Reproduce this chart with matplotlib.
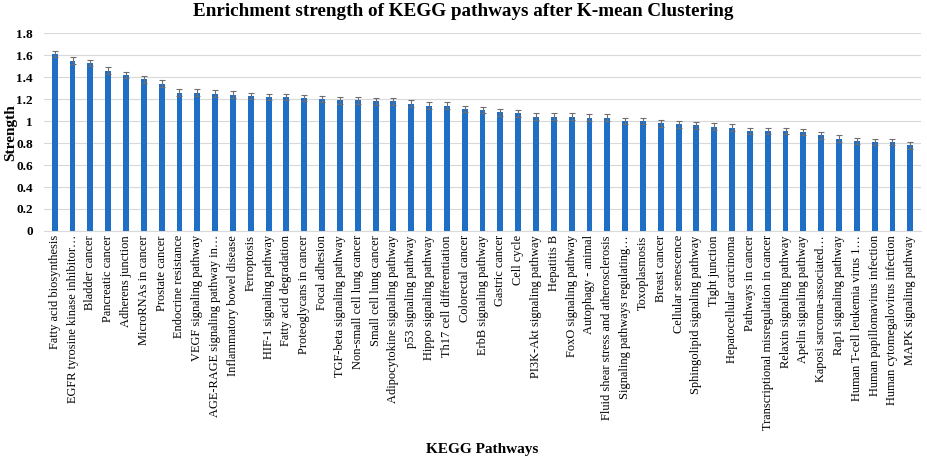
import matplotlib
matplotlib.use("Agg")
import matplotlib.pyplot as plt
import numpy as np

pathways = [
    "Fatty acid biosynthesis", "EGFR tyrosine kinase inhibitor…", "Bladder cancer",
    "Pancreatic cancer", "Adherens junction", "MicroRNAs in cancer", "Prostate cancer",
    "Endocrine resistance", "VEGF signaling pathway", "AGE-RAGE signaling pathway in…",
    "Inflammatory bowel disease", "Ferroptosis", "HIF-1 signaling pathway",
    "Fatty acid degradation", "Proteoglycans in cancer", "Focal adhesion",
    "TGF-beta signaling pathway", "Non-small cell lung cancer", "Small cell lung cancer",
    "Adipocytokine signaling pathway", "p53 signaling pathway", "Hippo signaling pathway",
    "Th17 cell differentiation", "Colorectal cancer", "ErbB signaling pathway",
    "Gastric cancer", "Cell cycle", "PI3K-Akt signaling pathway", "Hepatitis B",
    "FoxO signaling pathway", "Autophagy - animal", "Fluid shear stress and atherosclerosis",
    "Signaling pathways regulating…", "Toxoplasmosis", "Breast cancer",
    "Cellular senescence", "Sphingolipid signaling pathway", "Tight junction",
    "Hepatocellular carcinoma", "Pathways in cancer", "Transcriptional misregulation in cancer",
    "Relaxin signaling pathway", "Apelin signaling pathway", "Kaposi sarcoma-associated…",
    "Rap1 signaling pathway", "Human T-cell leukemia virus 1…", "Human papillomavirus infection",
    "Human cytomegalovirus infection", "MAPK signaling pathway",
]
strength = [
    1.61, 1.55, 1.53, 1.46, 1.42, 1.38, 1.34, 1.26, 1.26, 1.25,
    1.24, 1.23, 1.22, 1.22, 1.21, 1.20, 1.19, 1.19, 1.18, 1.18,
    1.16, 1.14, 1.14, 1.11, 1.10, 1.08, 1.07, 1.04, 1.04, 1.04,
    1.03, 1.03, 1.00, 1.00, 0.98, 0.97, 0.96, 0.95, 0.94, 0.91,
    0.91, 0.91, 0.90, 0.87, 0.84, 0.82, 0.81, 0.81, 0.78,
]
errors = [0.03] * len(strength)
yticks = [0, 0.2, 0.4, 0.6, 0.8, 1, 1.2, 1.4, 1.6, 1.8]
ytick_labels = ["0", "0.2", "0.4", "0.6", "0.8", "1", "1.2", "1.4", "1.6", "1.8"]

serif = ["Liberation Serif", "DejaVu Serif"]
plt.rcParams['font.family'] = serif

fig = plt.figure(figsize=(9.27, 4.61), dpi=100)
ax = fig.add_axes([0.0475, 0.499, 0.946, 0.429])

x = np.arange(len(pathways))
ax.bar(x, strength, width=0.33, color="#1f6fc6", zorder=3,
       yerr=errors, error_kw=dict(ecolor="#6e6e6e", elinewidth=0.8, capsize=2, capthick=0.8))

ax.set_xlim(-0.6, len(pathways) - 0.4)
ax.set_ylim(0, 1.8)
ax.set_yticks(yticks)
ax.set_yticklabels(ytick_labels, fontsize=9.5, fontweight="bold")
ax.set_xticks(x)
ax.set_xticklabels(pathways, rotation=90, fontsize=8.9, ha="center", va="top")
ax.tick_params(axis="x", length=0, pad=3)
ax.tick_params(axis="y", length=0, pad=8)
ax.grid(axis="y", color="#d9d9d9", linewidth=0.8, zorder=0)
for s in ["top", "right", "left"]:
    ax.spines[s].set_visible(False)
ax.spines["bottom"].set_color("#d9d9d9")

fig.text(0.012, 0.712, "Strength", rotation=90, ha="center", va="center",
         fontsize=11, fontweight="bold")
fig.text(0.52, 0.024, "KEGG Pathways", ha="center", va="center", fontsize=11, fontweight="bold")
fig.text(0.5, 0.974, "Enrichment strength of KEGG pathways after K-mean Clustering",
         ha="center", va="center", fontsize=13.8, fontweight="bold")

fig.savefig("out.png", dpi=100)
